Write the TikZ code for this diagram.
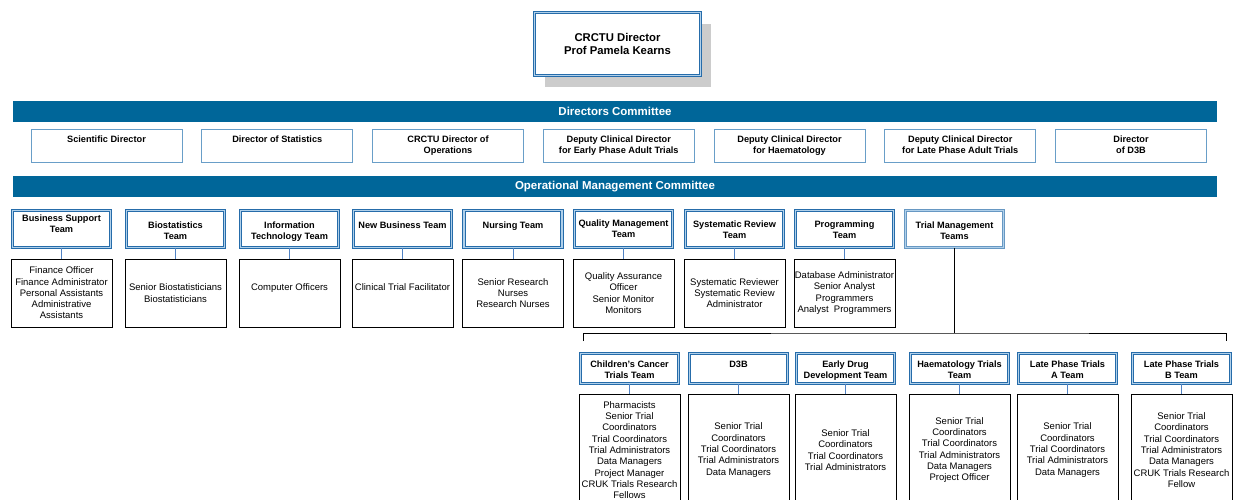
\documentclass[tikz,border=0pt]{standalone}
\usepackage{fontspec}
\setmainfont{Liberation Sans}
\usetikzlibrary{shadows}
\definecolor{barblue}{RGB}{0,102,153}
\definecolor{hdblue}{RGB}{38,108,170}
\definecolor{hdgap}{RGB}{176,208,234}
\definecolor{dirblue}{RGB}{105,158,200}
\definecolor{linkblue}{RGB}{80,130,195}
\tikzset{
  bar/.style={fill=barblue, minimum width=1204pt, minimum height=21pt, inner sep=0pt,
    text=white, font=\fontsize{11.5}{13}\selectfont\bfseries},
  topbox/.style={draw=hdblue, double=hdgap, line width=0.9pt, double distance=1.3pt,
    fill=white, minimum width=166pt, minimum height=63pt, align=center, inner sep=0pt,
    font=\fontsize{11.3}{13.8}\selectfont\bfseries},
  dirbox/.style={draw=dirblue, line width=0.8pt, minimum width=151pt, minimum height=33pt, inner sep=0pt},
  title/.style={anchor=north, align=center, inner sep=0pt, yshift=-7.5pt,
    font=\fontsize{9.2}{11}\selectfont\bfseries},
  hd/.style={draw=hdblue, double=hdgap, line width=0.9pt, double distance=1.3pt,
    minimum width=98pt, minimum height=37pt, inner sep=0pt},
  hdlow/.style={hd, minimum height=30pt},
  tmhd/.style={hd, draw=hdblue!70},
  det/.style={draw, line width=0.7pt, minimum width=101pt, minimum height=68pt, align=center,
    inner sep=0pt, font=\fontsize{9.5}{11.3}\selectfont},
  detlow/.style={det, minimum height=112pt},
  link/.style={draw=linkblue, line width=0.8pt},
  tree/.style={draw, line width=0.8pt}
}
\begin{document}
\begin{tikzpicture}[x=1pt,y=-1pt]
\useasboundingbox (0,0) rectangle (1233,500);
\clip (0,0) rectangle (1233,500);

\node[topbox, drop shadow={shadow xshift=10pt, shadow yshift=-12pt, fill=black!20, opacity=1}] (dirc) at (617.5,44) {CRCTU Director\\Prof Pamela Kearns};

\node[bar] (dcbar) at (615,111.5) {Directors Committee};
\node[bar] (ombar) at (615,186.5) {Operational Management Committee};

\foreach \i/\t in {1/Scientific Director, 2/Director of Statistics, 3/{CRCTU Director of\\Operations},
  4/{Deputy Clinical Director\\for Early Phase Adult Trials}, 5/{Deputy Clinical Director\\for Haematology},
  6/{Deputy Clinical Director\\for Late Phase Adult Trials}, 7/{Director\\of D3B}}
  \node[dirbox, label={[title]north:\t}] (d\i) at ({106.5+170.75*(\i-1)},145.5) {};

\node[hd, label={[title, yshift=3pt]north:Business Support\\Team}] (bst) at (61.5,229) {};
\node[hd, label={[title, yshift=-4pt]north:Biostatistics\\Team}] (bio) at (175.5,229) {};
\node[hd, label={[title, yshift=-4pt]north:Information\\Technology Team}] (its) at (289.5,229) {};
\node[hd, label={[title, yshift=-4pt]north:New Business Team}] (nbt) at (402.5,229) {};
\node[hd, label={[title, yshift=-4pt]north:Nursing Team}] (nur) at (513,229) {};
\node[hd, label={[title, yshift=-2pt]north:Quality Management\\Team}] (qmt) at (623.5,229) {};
\node[hd, label={[title, yshift=-3pt]north:Systematic Review\\Team}] (srt) at (734.5,229) {};
\node[hd, label={[title, yshift=-3pt]north:Programming\\Team}] (prg) at (844.5,229) {};
\node[tmhd, label={[title, yshift=-4pt]north:Trial Management\\Teams}] (tmt) at (954.5,229) {};

\node[det] (bstD) at (61.5,293) {Finance Officer\\Finance Administrator\\Personal Assistants\\Administrative\\Assistants};
\node[det] (bioD) at (175.5,293) {Senior Biostatisticians\\Biostatisticians};
\node[det] (itsD) at (289.5,293) {Computer Officers\\ \mbox{}};
\node[det] (nbtD) at (402.5,293) {Clinical Trial Facilitator\\ \mbox{}};
\node[det] (nurD) at (513,293) {Senior Research\\Nurses\\Research Nurses};
\node[det] (qmtD) at (623.5,293) {Quality Assurance\\Officer\\Senior Monitor\\Monitors};
\node[det] (srtD) at (734.5,293) {Systematic Reviewer\\Systematic Review\\Administrator};
\node[det] (prgD) at (844.5,293) {Database Administrator\\Senior Analyst\\Programmers\\Analyst\ \ Programmers};

\foreach \n in {bst,bio,its,nbt,nur,qmt,srt,prg}
  \draw[link] (\n) -- (\n D);

\coordinate (tbar) at (954.5,333);
\coordinate (tl) at (583,341);
\coordinate (tr) at (1226,341);
\draw[tree] (tmt) -- (tbar);
\draw[tree] (tl) |- (tbar) -| (tr);

\node[hdlow, label={[title]north:Children's Cancer\\Trials Team}] (cct) at (629.5,368.5) {};
\node[hdlow, label={[title]north:D3B}] (dtb) at (738.5,368.5) {};
\node[hdlow, label={[title]north:Early Drug\\Development Team}] (edd) at (845.5,368.5) {};
\node[hdlow, label={[title]north:Haematology Trials\\Team}] (hmt) at (959.5,368.5) {};
\node[hdlow, label={[title]north:Late Phase Trials\\A Team}] (lpa) at (1067.5,368.5) {};
\node[hdlow, label={[title]north:Late Phase Trials\\B Team}] (lpb) at (1181.5,368.5) {};

\node[detlow] (cctD) at (629.5,450) {Pharmacists\\Senior Trial\\Coordinators\\Trial Coordinators\\Trial Administrators\\Data Managers\\Project Manager\\CRUK Trials Research\\Fellows};
\node[detlow] (dtbD) at (738.5,450) {Senior Trial\\Coordinators\\Trial Coordinators\\Trial Administrators\\Data Managers};
\node[detlow] (eddD) at (845.5,450) {Senior Trial\\Coordinators\\Trial Coordinators\\Trial Administrators};
\node[detlow] (hmtD) at (959.5,450) {Senior Trial\\Coordinators\\Trial Coordinators\\Trial Administrators\\Data Managers\\Project Officer};
\node[detlow] (lpaD) at (1067.5,450) {Senior Trial\\Coordinators\\Trial Coordinators\\Trial Administrators\\Data Managers};
\node[detlow] (lpbD) at (1181.5,450) {Senior Trial\\Coordinators\\Trial Coordinators\\Trial Administrators\\Data Managers\\CRUK Trials Research\\Fellow};

\foreach \n in {cct,dtb,edd,hmt,lpa,lpb}
  \draw[link] (\n) -- (\n D);
\end{tikzpicture}
\end{document}
